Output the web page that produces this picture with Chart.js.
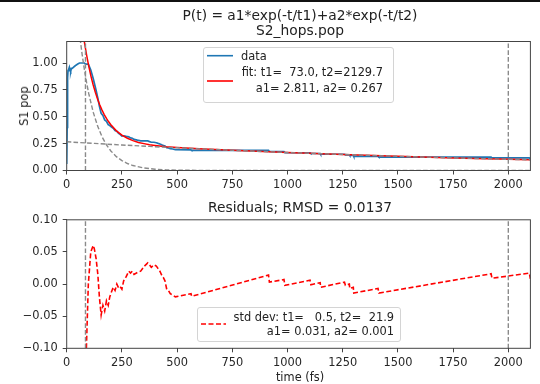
<!DOCTYPE html>
<html><head><meta charset="utf-8">
<script src="https://cdn.jsdelivr.net/npm/chart.js@4.4.0/dist/chart.umd.min.js"></script>
<style>
html,body{margin:0;padding:0;background:#fff;}
#wrap{position:relative;width:540px;height:384px;overflow:hidden;font-family:'DejaVu Sans',sans-serif;color:#222;}
#topbar{position:absolute;left:0;top:0;width:540px;height:2px;background:#111;}
canvas{position:absolute;left:0;}
#c1{top:0;}
#c2{top:196px;}
.t{position:absolute;white-space:pre;line-height:14px;height:14px;}
.h{font-size:13.8px;line-height:20px;height:20px;}
.c{transform:translateX(-50%);}
.leg{position:absolute;border:1px solid #d4d4d4;border-radius:3px;background:rgba(255,255,255,0.85);box-sizing:border-box;}
svg{position:absolute;overflow:visible;}
</style></head><body>
<div id="wrap">
<canvas id="c1" width="540" height="200"></canvas>
<canvas id="c2" width="540" height="188"></canvas>
<div id="topbar"></div>
<div class="t c h" style="left:300px;top:5px">P(t) = a1*exp(-t/t1)+a2*exp(-t/t2)</div>
<div class="t c h" style="left:300px;top:20px">S2_hops.pop</div>
<div class="t" style="left:24px;top:106px;font-size:11.4px;transform:translate(-50%,-50%) rotate(-90deg)">S1 pop</div>
<div class="t c h" style="left:300px;top:197px">Residuals; RMSD = 0.0137</div>
<div class="t c" style="left:300px;top:370px;font-size:11.4px">time (fs)</div>

<div class="leg" style="left:203px;top:47px;width:191px;height:56px"></div>
<svg style="left:0;top:0" width="540" height="384"><line x1="207" y1="55.7" x2="233" y2="55.7" stroke="#1f77b4" stroke-width="1.6"/><line x1="207" y1="81" x2="233" y2="81" stroke="#ff0000" stroke-width="1.6"/></svg>
<div class="t" style="left:241px;top:48.5px;font-size:11.4px">data</div>
<div class="t" style="left:200px;width:183px;text-align:right;top:65.3px;font-size:11.4px">fit: t1=  73.0, t2=2129.7</div>
<div class="t" style="left:200px;width:183px;text-align:right;top:80.7px;font-size:11.4px">a1= 2.811, a2= 0.267</div>

<div class="leg" style="left:197px;top:307px;width:204px;height:35px"></div>
<svg style="left:0;top:0" width="540" height="384"><line x1="201" y1="324" x2="226" y2="324" stroke="#ff0000" stroke-width="1.6" stroke-dasharray="5 2.5"/></svg>
<div class="t" style="left:200px;width:194px;text-align:right;top:309.7px;font-size:11.4px">std dev: t1=   0.5, t2=  21.9</div>
<div class="t" style="left:200px;width:194px;text-align:right;top:323.7px;font-size:11.4px">a1= 0.031, a2= 0.001</div>
</div>
<script>
// ---------- data ----------
const X_RANGE = [0, 2100];
const X_TICKS = [0, 250, 500, 750, 1000, 1250, 1500, 1750, 2000];
const X_LABELS = ['0', '250', '500', '750', '1000', '1250', '1500', '1750', '2000'];
const FIT_WINDOW = [85, 2000];

const Y1_RANGE = [0, 1.2];
const Y1_TICKS = [0, 0.25, 0.5, 0.75, 1.0];
const Y1_LABELS = ['0.00', '0.25', '0.50', '0.75', '1.00'];

const Y2_RANGE = [-0.1, 0.1];
const Y2_TICKS = [-0.1, -0.05, 0, 0.05, 0.1];
const Y2_LABELS = ['\u22120.10', '\u22120.05', '0.00', '0.05', '0.10'];

// S1 population (data)
const TIME_DATA = [0, 2, 4, 6, 9, 12, 15, 18, 21, 25, 30, 36, 42, 50, 58, 72, 80, 86,
  98, 109, 120, 125, 133, 141, 148, 156, 164, 172, 180, 188, 195, 203, 211, 219, 227, 235, 242, 250,
  258, 270, 281, 289, 297, 305, 320, 335, 352, 367, 375, 383, 395, 406, 414, 422, 430, 438, 445,
  453, 461, 469, 480, 492, 563, 566, 914, 918, 984, 988, 1102, 1106, 1148, 1150, 1258, 1262,
  1280, 1282, 1298, 1300, 1410, 1414, 1922, 1926, 2095, 2100];
const POP_DATA = [0.06, 0.40, 0.86, 0.93, 0.94, 0.96, 0.93, 0.92, 0.95, 0.95, 0.96, 0.97, 0.98, 0.99, 1.00, 1.00, 1.00, 0.99,
  0.989, 0.935, 0.856, 0.814, 0.746, 0.672, 0.599, 0.532, 0.512, 0.471, 0.458, 0.426, 0.418, 0.405, 0.393, 0.371, 0.365, 0.345, 0.336, 0.321,
  0.323, 0.317, 0.313, 0.303, 0.300, 0.289, 0.282, 0.276, 0.276, 0.275, 0.269, 0.263, 0.263, 0.258, 0.252, 0.247, 0.239, 0.233, 0.227,
  0.212, 0.209, 0.203, 0.200, 0.194, 0.191, 0.187, 0.188, 0.177, 0.175, 0.166, 0.165, 0.158, 0.158, 0.151, 0.151, 0.146,
  0.146, 0.140, 0.140, 0.131, 0.131, 0.124, 0.124, 0.117, 0.117, 0.108];

// fitted curve
const TIME_FIT = [60, 70, 80, 90, 100, 110, 120, 130, 140, 150, 160, 170, 180, 190, 200, 225, 250, 275, 300, 325,
  350, 375, 400, 450, 500, 600, 750, 1000, 1250, 1500, 1750, 2000, 2100];
const POP_FIT = [1.496, 1.335, 1.197, 1.075, 0.969, 0.876, 0.795, 0.725, 0.663, 0.609, 0.562, 0.520, 0.484, 0.453, 0.425, 0.369, 0.329, 0.300, 0.278, 0.261,
  0.250, 0.239, 0.233, 0.222, 0.214, 0.202, 0.188, 0.167, 0.149, 0.132, 0.117, 0.104, 0.0996];

// fast component a1*exp(-t/t1)
const TIME_C1 = [50, 60, 70, 80, 90, 100, 120, 140, 160, 180, 200, 225, 250, 275, 300, 350, 400, 450, 500, 600, 800, 2100];
const POP_C1 = [1.417, 1.236, 1.077, 0.940, 0.819, 0.714, 0.543, 0.413, 0.314, 0.239, 0.182, 0.129, 0.092, 0.065, 0.046, 0.023, 0.012, 0.006, 0.003, 0.001, 0.0, 0.0];

// slow component a2*exp(-t/t2)
const TIME_C2 = [0, 125, 250, 375, 500, 750, 1000, 1250, 1500, 1750, 2000, 2100];
const POP_C2 = [0.267, 0.252, 0.237, 0.224, 0.211, 0.188, 0.167, 0.149, 0.132, 0.117, 0.104, 0.0996];

// residuals
const TIME_RES = [86, 98, 109, 120, 125, 133, 141, 148, 156, 164, 172, 180, 188, 195, 203, 211, 219, 227, 235, 242, 250,
  258, 270, 281, 289, 297, 305, 320, 335, 352, 367, 375, 383, 395, 406, 414, 422, 430, 438, 445,
  453, 461, 469, 480, 492, 563, 566, 914, 918, 984, 988, 1102, 1106, 1148, 1150, 1258, 1262,
  1280, 1282, 1298, 1300, 1410, 1414, 1922, 1926, 2095, 2100];
const RESID = [-0.135, 0.0, 0.05, 0.06, 0.055, 0.04, 0.015, -0.02, -0.048, -0.033, -0.042, -0.026, -0.033, -0.02, -0.012, -0.005, -0.01, 0.0, -0.006, -0.004, -0.008,
  0.005, 0.012, 0.02, 0.017, 0.02, 0.015, 0.018, 0.02, 0.028, 0.033, 0.03, 0.026, 0.03, 0.028, 0.024, 0.02, 0.014, 0.01, 0.005,
  -0.008, -0.01, -0.015, -0.017, -0.02, -0.015, -0.019, 0.014, 0.003, 0.007, -0.002, 0.006, -0.001, 0.002, -0.005, 0.003, -0.002,
  0.0, -0.007, -0.005, -0.014, -0.007, -0.014, 0.016, 0.009, 0.017, 0.008];

// ---------- styling / helpers ----------
const FONT = {family: 'DejaVu Sans', size: 11.4};
const TXT = '#262626';
const SPINE = '#444';
const pts = (xs, ys) => xs.map((x, i) => ({x: x, y: ys[i]}));
const vline = (x, r) => [{x: x, y: r[0]}, {x: x, y: r[1]}];

const frame = {
  id: 'frame',
  afterDatasetsDraw(chart) {
    const {ctx, chartArea: a} = chart;
    ctx.save();
    ctx.strokeStyle = SPINE;
    ctx.lineWidth = 1;
    ctx.strokeRect(a.left, a.top, a.right - a.left, a.bottom - a.top);
    ctx.restore();
  }
};

function scales(yRange, yTicks, yLabels, yWidth, xHeight) {
  const grid = {display: true, drawOnChartArea: false, drawTicks: true, tickLength: 4, color: SPINE, lineWidth: 1};
  return {
    x: {
      type: 'linear', min: X_RANGE[0], max: X_RANGE[1],
      border: {display: false}, grid: grid,
      afterBuildTicks: s => { s.ticks = X_TICKS.map(v => ({value: v})); },
      afterFit: s => { s.height = xHeight; },
      ticks: {color: TXT, font: FONT, padding: 4, autoSkip: false, maxRotation: 0,
        callback: (v, i) => X_LABELS[i]}
    },
    y: {
      type: 'linear', min: yRange[0], max: yRange[1],
      border: {display: false}, grid: grid,
      afterBuildTicks: s => { s.ticks = yTicks.map(v => ({value: v})); },
      afterFit: s => { s.width = yWidth; },
      ticks: {color: TXT, font: FONT, padding: 5, autoSkip: false,
        callback: (v, i) => yLabels[i]}
    }
  };
}

const base = {
  responsive: false, animation: false, devicePixelRatio: 1,
  plugins: {legend: {display: false}, tooltip: {enabled: false}, title: {display: false}},
  elements: {point: {radius: 0}, line: {tension: 0}}
};

const GRAY = '#8a8a8a';
const DASH = [4.6, 2.2];

new Chart(document.getElementById('c1'), {
  type: 'line',
  data: {datasets: [
    {data: pts(TIME_DATA, POP_DATA), borderColor: '#1f77b4', borderWidth: 1.7, order: 5},
    {data: pts(TIME_FIT, POP_FIT), borderColor: '#ff0000', borderWidth: 1.5, order: 4},
    {data: pts(TIME_C1, POP_C1), borderColor: GRAY, borderWidth: 1.4, borderDash: DASH, order: 3},
    {data: pts(TIME_C2, POP_C2), borderColor: GRAY, borderWidth: 1.4, borderDash: DASH, order: 3},
    {data: vline(FIT_WINDOW[0], Y1_RANGE), borderColor: GRAY, borderWidth: 1.4, borderDash: DASH, order: 2},
    {data: vline(FIT_WINDOW[1], Y1_RANGE), borderColor: GRAY, borderWidth: 1.4, borderDash: DASH, order: 2}
  ]},
  options: Object.assign({}, base, {
    layout: {padding: {left: 0, right: 9.6, top: 41.5, bottom: 0}},
    scales: scales(Y1_RANGE, Y1_TICKS, Y1_LABELS, 66.7, 29.5)
  }),
  plugins: [frame]
});

new Chart(document.getElementById('c2'), {
  type: 'line',
  data: {datasets: [
    {data: pts(TIME_RES, RESID), borderColor: '#ff0000', borderWidth: 1.6, borderDash: [5, 2.5], order: 4},
    {data: vline(FIT_WINDOW[0], Y2_RANGE), borderColor: GRAY, borderWidth: 1.4, borderDash: DASH, order: 2},
    {data: vline(FIT_WINDOW[1], Y2_RANGE), borderColor: GRAY, borderWidth: 1.4, borderDash: DASH, order: 2}
  ]},
  options: Object.assign({}, base, {
    layout: {padding: {left: 0, right: 9.6, top: 23.8, bottom: 0}},
    scales: scales(Y2_RANGE, Y2_TICKS, Y2_LABELS, 66.7, 35.7)
  }),
  plugins: [frame]
});
</script>
</body></html>
